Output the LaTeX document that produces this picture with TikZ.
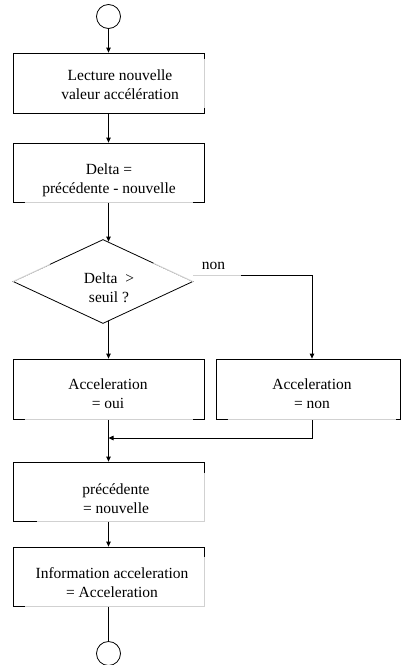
\documentclass[tikz,border=0pt]{standalone}
\usepackage{fontspec}
\setmainfont{Liberation Serif}
\usetikzlibrary{arrows.meta,shapes.geometric,calc}

\begin{document}
\begin{tikzpicture}[x=1pt,y=-1pt,
  line/.style={draw=black, line width=0.8pt},
  flow/.style={line, -{Triangle[length=5pt,width=4.5pt]}},
  stepbox/.style={line, rectangle, inner sep=0pt, minimum width=191pt},
  test/.style={line, diamond, inner sep=0pt, minimum width=180pt, minimum height=84pt},
  terminal/.style={line, circle, inner sep=0pt, minimum size=24pt},
  txt/.style={inner sep=0pt, align=center, font=\fontsize{15.5}{19}\selectfont},
  hidden/.style={draw=white, draw opacity=0.82, line width=1.6pt}
]
\useasboundingbox (0,0) rectangle (401,665);

% shapes
\node[terminal] (start) at (108.5,16.5) {};
\node[stepbox, minimum height=60pt] (read) at (108.5,83) {};
\node[stepbox, minimum height=59pt] (delta) at (108.5,172.5) {};
\node[test] (cmp) at (103,281.5) {};
\node[stepbox, minimum height=60pt] (yes) at (108.5,389) {};
\node[line, rectangle, inner sep=0pt, minimum width=184pt, minimum height=60pt] (no) at (308,389) {};
\node[stepbox, minimum height=59pt] (keep) at (108.5,491.5) {};
\node[stepbox, minimum height=59pt] (info) at (108.5,576.5) {};
\node[terminal] (stop) at (108.5,653.5) {};

% connectors
\draw[flow] (start) -- (read);
\draw[flow] (read) -- (delta);
\draw[flow] (delta.south) -- ($(delta.south |- cmp.north)+(0,2.5)$);
\draw[flow] ($(yes.north |- cmp.south)+(0,-2.5)$) -- (yes.north);
\coordinate (nostart) at ($(cmp.east)+(0,-6.5)$);
\coordinate (noturn) at (312,275);
\draw[line] (nostart) -- (noturn);
\draw[flow] (noturn) -- (noturn |- no.north);
\coordinate (join) at (108.5,438);
\draw[flow] (noturn |- no.south) |- (join);
\draw[flow] (yes.south) -- (keep.north);
\draw[flow] (keep) -- (info);
\draw[line] (info) -- (stop);

% border parts hidden behind the text frames
\draw[hidden] ($(read.north east)+(0,6)$) -- ($(read.south east)+(0,-5)$);
\draw[hidden] ($(delta.south west)+(12,0)$) -- ($(delta.south east)+(-11,0)$);
\draw[hidden] (cmp.west) -- ($(cmp.west)!0.41!(cmp.north)$);
\draw[hidden] (cmp.east) -- ($(cmp.east)!0.44!(cmp.north)$);
\draw[hidden] (nostart) -- +(48,0);
\draw[hidden] ($(yes.south west)+(12,0)$) -- ($(yes.south east)+(-11,0)$);
\draw[hidden] ($(no.south west)+(12,0)$) -- ($(no.south east)+(-4,0)$);
\draw[hidden] ($(keep.north east)+(0,11)$) -- (keep.south east) -- ($(keep.south west)+(24,0)$);
\draw[hidden] ($(info.north east)+(0,10)$) -- (info.south east) -- ($(info.south west)+(12,0)$);

% texts
\node[txt] (readtxt) at (120,85) {Lecture nouvelle\\valeur accélération};
\node[txt] (deltatxt) at (109,180.5) {Delta =\\précédente - nouvelle};
\node[txt] (cmptxt) at (109,288) {Delta~~>\\seuil ?};
\node[txt] (nolbl) at (213.5,266) {non};
\node[txt] (yestxt) at (108,394) {Acceleration\\= oui};
\node[txt] (notxt) at (312,394) {Acceleration\\= non};
\node[txt] (keeptxt) at (116,499) {précédente\\= nouvelle};
\node[txt] (infotxt) at (112,583) {Information acceleration\\= Acceleration};
\end{tikzpicture}
\end{document}
